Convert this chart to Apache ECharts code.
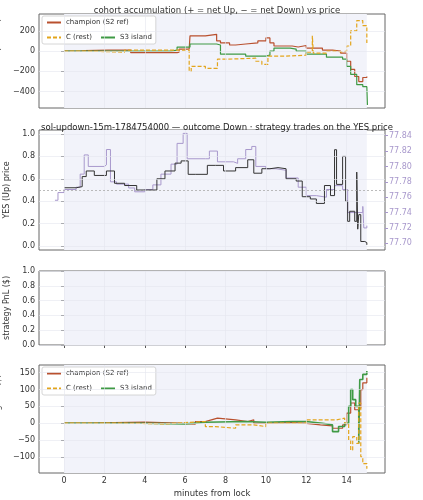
<!doctype html>
<html>
<head>
<meta charset="UTF-8">
<title>cohort chart</title>
<script src="https://cdn.jsdelivr.net/npm/echarts@6/dist/echarts.min.js"></script>
<style>body{margin:0;background:#fff}#c{width:423px;height:500px}</style>
</head>
<body>
<div id="c"></div>
<script>
// tick labels
var xTicks = [0, 2, 4, 6, 8, 10, 12, 14];
var accTicks = [-400, -200, 0, 200];
var yesTicks = [0, 0.2, 0.4, 0.6, 0.8, 1.0];
var solTicks = [77.70, 77.72, 77.74, 77.76, 77.78, 77.80, 77.82, 77.84];
var pnlTicks = [0, 0.2, 0.4, 0.6, 0.8, 1.0];
var movTicks = [-100, -50, 0, 50, 100, 150];

// panel 1: accumulated net YES (shares)
var accChampion = [[0,0],[0.8,5],[1,10],[2.2,10],[3.3,-15],[5.6,-10],[5.7,20],[6.2,10],[6.24,150],[7,165],[7.56,100],[7.75,80],[8.2,60],[8.5,70],[9.0,80],[9.6,100],[10,130],[10.2,80],[10.4,50],[11.3,40],[11.6,55],[12,30],[12.8,10],[13.3,0],[13.7,-20],[14.0,-100],[14.2,-180],[14.4,-250],[14.6,-300],[14.8,-260],[15.0,-250]];
var accIsland = [[0,0],[5.3,10],[5.6,40],[6.24,70],[7.56,60],[7.75,-30],[9,-50],[10,-40],[10.2,0],[10.4,30],[11.2,20],[11.5,0],[12,-30],[13,-60],[13.8,-80],[14.0,-150],[14.2,-230],[14.5,-330],[14.8,-350],[15.0,-350],[15.03,-530]];
var accRest = [[0,0],[1,-10],[3,10],[5.5,10],[6.2,-200],[6.3,-150],[7,-170],[7.6,-80],[8,-70],[9.5,-100],[9.8,-130],[10.1,-50],[11,-40],[12,-10],[12.3,150],[12.35,-20],[13,0],[13.5,-10],[13.8,0],[14.0,50],[14.2,200],[14.5,300],[14.8,250],[15.0,80]];

// panel 2: YES price and SOL/USD
var yesPrice = [[0,0.52],[0.6,0.53],[0.9,0.62],[1.1,0.67],[1.5,0.63],[2.1,0.67],[2.5,0.56],[3,0.54],[3.6,0.5],[4.1,0.5],[4.6,0.6],[5,0.67],[5.5,0.74],[5.8,0.76],[6.15,0.64],[6.5,0.64],[7.1,0.72],[7.5,0.72],[7.9,0.67],[8.5,0.7],[9.1,0.77],[9.4,0.65],[9.8,0.69],[10.2,0.7],[10.6,0.69],[11.0,0.6],[11.5,0.58],[11.8,0.44],[12.2,0.42],[12.5,0.38],[12.9,0.54],[13.2,0.45],[13.4,0.86],[13.5,0.55],[13.8,0.8],[13.95,0.4],[14.05,0.22],[14.15,0.31],[14.4,0.22],[14.5,0.66],[14.55,0.15],[14.6,0.28],[14.7,0.04],[14.9,0.03],[15.0,0.01]];
var solPrice = [[-0.45,77.756],[-0.3,77.766],[0,77.77],[0.6,77.773],[0.8,77.79],[1.0,77.815],[1.2,77.80],[2.0,77.802],[2.1,77.822],[2.3,77.78],[2.6,77.777],[3.2,77.772],[3.5,77.767],[4.0,77.77],[4.4,77.776],[4.8,77.79],[5.3,77.803],[5.6,77.83],[5.9,77.843],[6.1,77.81],[7,77.81],[7.2,77.82],[7.6,77.806],[8.4,77.804],[8.6,77.81],[9,77.822],[9.3,77.826],[9.5,77.8],[10,77.797],[10.5,77.795],[11,77.785],[11.6,77.773],[12,77.762],[12.5,77.76],[13,77.77],[13.4,77.775],[13.8,77.77],[14.05,77.74],[14.4,77.74],[14.8,77.748],[14.85,77.72],[15.0,77.723]];

// panel 4: cohort moving PnL ($)
var movChampion = [[0,0],[1.2,2],[2.5,3],[4,0],[5.7,-3],[6.5,5],[7,10],[7.3,15],[7.6,10],[8.5,5],[9.1,10],[9.4,0],[10.2,2],[11.3,0],[11.9,-5],[12.7,-8],[13.3,-15],[13.8,-5],[14.0,30],[14.2,60],[14.4,40],[14.6,45],[14.7,100],[14.8,120],[15,135]];
var movIsland = [[0,0],[4,-2],[6,3],[7,5],[9,3],[10,5],[11.3,5],[12,0],[12.8,-5],[13.3,-25],[13.6,-10],[13.9,0],[14.1,50],[14.2,100],[14.3,70],[14.45,50],[14.6,-60],[14.65,130],[14.8,145],[15,155]];
var movRest = [[0,0],[3,-2],[5,2],[6,5],[7,-10],[7.5,-15],[8.5,-5],[9.4,-10],[10,0],[11.5,0],[12,10],[13.5,15],[13.9,0],[14.1,-50],[14.2,-80],[14.3,-40],[14.5,-60],[14.6,60],[14.7,-100],[14.8,-120],[15,-135]];

var FONT = 'DejaVu Sans';
var RED = '#b9502e', GREEN = '#3f9a45', YEL = '#e3a51c', PURP = '#a898cc';
var grids = [[14, 108], [130, 250], [271, 345], [365, 473]];
var yr = [[-560, 365, accTicks], [-0.036, 1.036, yesTicks], [0, 1, pnlTicks], [-148, 173, movTicks]];

var grid = [], xAxis = [], yAxis = [], series = [];
grids.forEach(function (g, i) {
  grid.push({left: 39, width: 346, top: g[0], height: g[1] - g[0], containLabel: false, outerBoundsMode: 'none',
    show: true, borderColor: '#666', borderWidth: 1, backgroundColor: '#fff'});
  xAxis.push({type: 'value', gridIndex: i, min: -1.24, max: 15.9,
    name: i == 3 ? 'minutes from lock' : '', nameLocation: 'middle', nameGap: 16,
    nameTextStyle: {fontFamily: FONT, fontSize: 8.5, color: '#333'},
    axisLine: {show: false}, splitLine: {show: false},
    axisTick: {customValues: xTicks, length: 3, lineStyle: {color: '#555'}},
    axisLabel: {show: i == 3, customValues: xTicks, fontFamily: FONT, fontSize: 8, color: '#333', margin: 4}});
  var names = ['acc. net YES (shares)', 'YES (Up) price', 'strategy PnL ($)', 'cohort moving PnL ($)'];
  yAxis.push({type: 'value', gridIndex: i, min: yr[i][0], max: yr[i][1],
    name: names[i], nameLocation: 'middle', nameGap: i == 2 ? 24 : 27, nameRotate: 90,
    nameTextStyle: {fontFamily: FONT, fontSize: 8, color: '#333'},
    axisLine: {show: false}, splitLine: {show: false},
    axisTick: {show: true, customValues: yr[i][2], length: 3, lineStyle: {color: '#555'}},
    axisLabel: {customValues: yr[i][2], fontFamily: FONT, fontSize: 8, color: '#333', margin: 4,
      formatter: function (v) { return i == 1 || i == 2 ? v.toFixed(1) : String(v).replace('-', '\u2212'); }}});
  // window shading + gridlines
  var gl = xTicks.map(function (t) { return {xAxis: t}; }).concat(yr[i][2].map(function (t) { return {yAxis: t}; }));
  series.push({type: 'line', xAxisIndex: i, yAxisIndex: i, data: [], silent: true,
    markArea: {silent: true, itemStyle: {color: '#f2f3fa'}, data: [[{xAxis: 0}, {xAxis: 15}]]},
    markLine: {silent: true, symbol: 'none', label: {show: false}, lineStyle: {color: '#e4e6ee', width: 0.6, type: 'solid'}, data: gl}});
});
yAxis.push({type: 'value', gridIndex: 1, position: 'right', min: 77.6913, max: 77.8474,
  name: 'SOL/USD (strike dotted = YES 0.5)', nameLocation: 'middle', nameGap: 34, nameRotate: 90,
  nameTextStyle: {fontFamily: FONT, fontSize: 7.5, color: PURP},
  axisLine: {show: false}, splitLine: {show: false},
  axisTick: {show: true, customValues: solTicks, length: 3, lineStyle: {color: PURP}},
  axisLabel: {customValues: solTicks, fontFamily: FONT, fontSize: 8, color: PURP, margin: 4, formatter: function (v) { return v.toFixed(2); }}});

function ln(name, data, xi, yi, color, dashed, w) {
  return {name: name, type: 'line', step: 'end', xAxisIndex: xi, yAxisIndex: yi, data: data, symbol: 'none',
    lineStyle: {color: color, width: w || 1.2, type: dashed ? [4, 2] : 'solid'}, itemStyle: {color: color}, z: 3};
}
series.push(ln('champion (S2 ref)', accChampion, 0, 0, RED));
series.push(ln('S3 island', accIsland, 0, 0, GREEN));
series.push(ln('C (rest)', accRest, 0, 0, YEL, true));
series.push(ln('sol', solPrice, 1, 4, PURP, false, 1));
var yp = ln('yes', yesPrice, 1, 1, '#333', false, 1);
yp.markLine = {silent: true, symbol: 'none', label: {show: false}, lineStyle: {color: '#aaa', width: 0.8, type: [2, 2]}, data: [{yAxis: 0.5}]};
series.push(yp);
series.push(ln('champion (S2 ref)', movChampion, 3, 3, RED));
series.push(ln('S3 island', movIsland, 3, 3, GREEN, false, 1.6));
series.push(ln('C (rest)', movRest, 3, 3, YEL, true));

var legendBase = {data: ['champion (S2 ref)', 'C (rest)', 'S3 island'], orient: 'horizontal', width: 110,
  itemWidth: 14, itemHeight: 8, itemGap: 8, padding: [3, 4], backgroundColor: '#fff', borderColor: '#ccc', borderWidth: 0.8, borderRadius: 2,
  itemStyle: {opacity: 0}, textStyle: {fontFamily: FONT, fontSize: 7, color: '#333'}};
var chart = echarts.init(document.getElementById('c'));
chart.setOption({
  animation: false,
  title: [
    {text: 'cohort accumulation (+ = net Up, \u2212 = net Down) vs price', left: 212, textAlign: 'center', top: 1, textStyle: {fontFamily: FONT, fontSize: 8.5, fontWeight: 'normal', color: '#333'}},
    {text: 'sol-updown-15m-1784754000 \u2014 outcome Down \u00b7 strategy trades on the YES price', left: 212, textAlign: 'center', top: 118, textStyle: {fontFamily: FONT, fontSize: 8.5, fontWeight: 'normal', color: '#222'}}
  ],
  legend: [Object.assign({left: 42, top: 16}, legendBase), Object.assign({left: 42, top: 367}, legendBase)],
  grid: grid, xAxis: xAxis, yAxis: yAxis, series: series,
  graphic: [{type: 'text', left: 'center', top: 303, style: {text: 'no strategy trades this window', fontFamily: FONT, fontSize: 8, fill: '#999'}}]
});
</script>
</body>
</html>
